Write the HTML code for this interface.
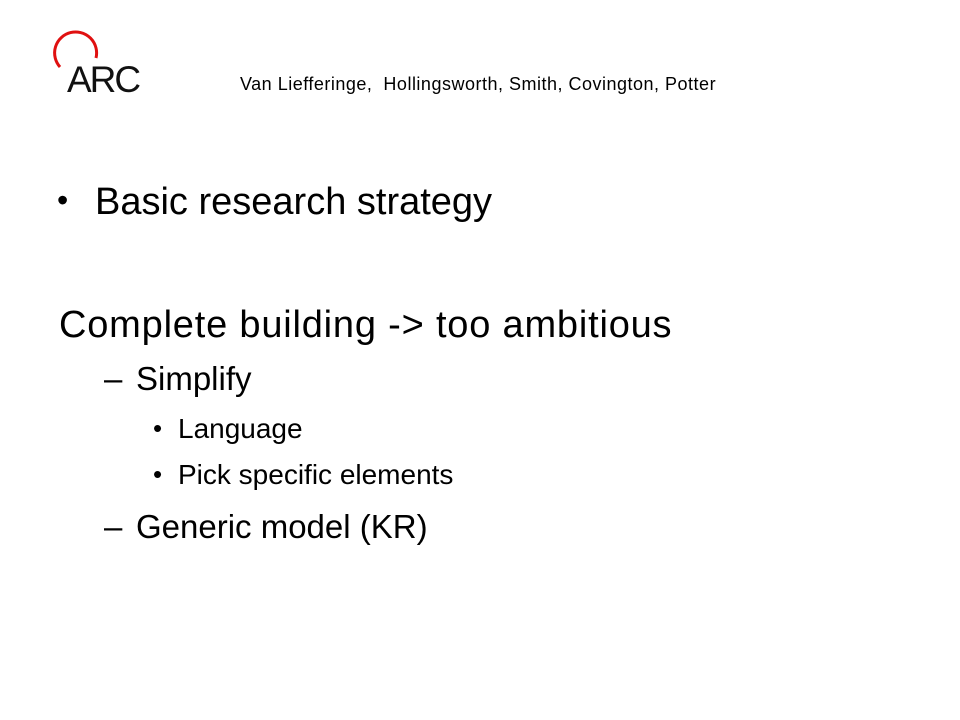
<!DOCTYPE html>
<html><head><meta charset="utf-8"><style>
body{margin:0;width:960px;height:720px;background:#fff;overflow:hidden;font-family:"Liberation Sans",sans-serif;color:#000}
.t{position:absolute;line-height:1;white-space:nowrap}
</style></head><body>
<div style="position:relative;width:960px;height:720px">
<svg style="position:absolute;left:0;top:0" width="200" height="110">
<path d="M60,67 A21,21 0 1 1 96,58" fill="none" stroke="#e01010" stroke-width="3"/>
<text x="67" y="92" font-family="Liberation Sans" font-size="37" letter-spacing="-2" fill="#111">ARC</text>
</svg>
<div class="t" style="left:240px;top:75px;font-size:18px;letter-spacing:0.5px">Van Liefferinge,&nbsp; Hollingsworth, Smith, Covington, Potter</div>
<div class="t" style="left:57px;top:184px;font-size:32px">•</div>
<div class="t" style="left:95px;top:183px;font-size:38px">Basic research strategy</div>
<div class="t" style="left:59px;top:306px;font-size:38px;letter-spacing:0.8px">Complete building -&gt; too ambitious</div>
<div class="t" style="left:104px;top:362px;font-size:33px">–</div>
<div class="t" style="left:136px;top:362px;font-size:33px">Simplify</div>
<div class="t" style="left:153px;top:415px;font-size:26px">•</div>
<div class="t" style="left:178px;top:415px;font-size:28px">Language</div>
<div class="t" style="left:153px;top:461px;font-size:26px">•</div>
<div class="t" style="left:178px;top:461px;font-size:28px">Pick specific elements</div>
<div class="t" style="left:104px;top:510px;font-size:33px">–</div>
<div class="t" style="left:136px;top:510px;font-size:33px">Generic model (KR)</div>
</div>
</body></html>
